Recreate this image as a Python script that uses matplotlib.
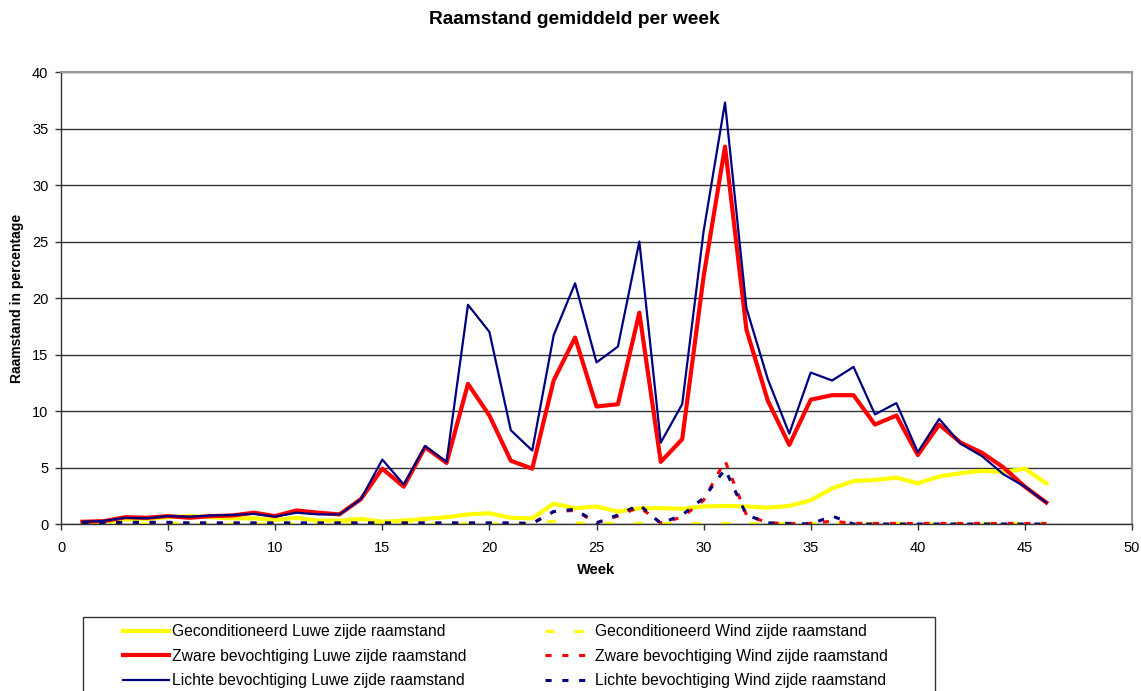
import numpy as np
import matplotlib.pyplot as plt
from matplotlib.patches import Rectangle

plt.rcParams['font.family'] = ['Liberation Sans', 'DejaVu Sans']

weeks = np.arange(1, 47)

# Luwe zijde (lijzijde) raamstand
gecond_luwe = [0.1, 0.2, 0.4, 0.45, 0.6, 0.7, 0.6, 0.5, 0.5, 0.35,
               0.55, 0.3, 0.3, 0.45, 0.2, 0.3, 0.45, 0.6, 0.85, 0.95,
               0.55, 0.5, 1.8, 1.4, 1.55, 1.1, 1.4, 1.4, 1.35, 1.55,
               1.6, 1.55, 1.45, 1.6, 2.1, 3.15, 3.8, 3.9, 4.1, 3.6,
               4.2, 4.5, 4.7, 4.6, 4.9, 3.6]
zware_luwe = [0.2, 0.25, 0.6, 0.55, 0.7, 0.55, 0.7, 0.75, 1.0, 0.7,
              1.2, 1.0, 0.85, 2.2, 4.9, 3.3, 6.8, 5.4, 12.4, 9.6,
              5.6, 4.9, 12.7, 16.5, 10.4, 10.6, 18.7, 5.5, 7.5, 21.9,
              33.4, 17.2, 10.9, 7.0, 11.0, 11.4, 11.4, 8.8, 9.6, 6.1,
              8.8, 7.2, 6.3, 5.0, 3.3, 1.9]
lichte_luwe = [0.2, 0.27, 0.55, 0.5, 0.7, 0.65, 0.75, 0.8, 0.9, 0.65,
               1.0, 0.85, 0.85, 2.2, 5.7, 3.5, 6.9, 5.5, 19.4, 17.0,
               8.3, 6.5, 16.7, 21.3, 14.3, 15.7, 25.0, 7.2, 10.6, 25.9,
               37.3, 19.1, 12.8, 8.0, 13.4, 12.7, 13.9, 9.7, 10.7, 6.35,
               9.3, 7.1, 6.0, 4.4, 3.3, 1.9]

# Wind zijde raamstand
gecond_wind = [0.0, 0.0, 0.0, 0.0, 0.05, 0.0, 0.0, 0.0, 0.0, 0.0,
               0.0, 0.0, 0.0, 0.0, 0.0, 0.0, 0.0, 0.0, 0.0, 0.0,
               0.0, 0.05, 0.25, 0.1, 0.05, 0.05, 0.05, 0.05, 0.05, 0.05,
               0.05, 0.05, 0.05, 0.05, 0.05, 0.05, 0.05, 0.05, 0.05, 0.05,
               0.05, 0.05, 0.05, 0.05, 0.05, 0.05]
zware_wind = [0.05, 0.05, 0.05, 0.05, 0.05, 0.05, 0.05, 0.05, 0.05, 0.05,
              0.05, 0.05, 0.05, 0.05, 0.05, 0.05, 0.05, 0.05, 0.05, 0.05,
              0.05, 0.05, 1.1, 1.2, 0.1, 0.7, 1.5, 0.1, 0.6, 2.1,
              5.6, 0.8, 0.1, 0.05, 0.05, 0.25, 0.05, 0.05, 0.05, 0.05,
              0.05, 0.05, 0.05, 0.05, 0.05, 0.05]
lichte_wind = [0.1, 0.1, 0.15, 0.15, 0.15, 0.1, 0.1, 0.1, 0.1, 0.1,
               0.1, 0.1, 0.1, 0.1, 0.1, 0.1, 0.1, 0.1, 0.1, 0.1,
               0.1, 0.05, 1.1, 1.3, 0.1, 0.8, 1.7, 0.05, 0.8, 2.3,
               4.85, 0.8, 0.1, 0.05, 0.0, 0.7, 0.0, 0.0, 0.0, 0.0,
               0.0, 0.0, 0.0, 0.0, 0.0, 0.0]

W, H = 1141, 691
fig = plt.figure(figsize=(W / 100, H / 100), dpi=100)
ax = fig.add_axes([61 / W, 1 - 524 / H, (1132 - 61) / W, (524 - 72) / H])

l1, = ax.plot(weeks, gecond_luwe, color='#ffff00', lw=3.0,
              label='Geconditioneerd Luwe zijde raamstand')
l2, = ax.plot(weeks, gecond_wind, color='#ffff00', lw=2.2, dashes=(3.0, 6.5),
              label='Geconditioneerd Wind zijde raamstand')
l3, = ax.plot(weeks, zware_luwe, color='#ff0000', lw=3.0,
              label='Zware bevochtiging Luwe zijde raamstand')
l4, = ax.plot(weeks, zware_wind, color='#ff0000', lw=2.2, dashes=(2.0, 3.5),
              label='Zware bevochtiging Wind zijde raamstand')
l5, = ax.plot(weeks, lichte_luwe, color='#000080', lw=1.6,
              label='Lichte bevochtiging Luwe zijde raamstand')
l6, = ax.plot(weeks, lichte_wind, color='#000080', lw=2.2, dashes=(2.0, 3.5),
              label='Lichte bevochtiging Wind zijde raamstand')

ax.set_xlim(0, 50)
ax.set_ylim(0, 40)
ax.set_xticks(np.arange(0, 51, 5))
ax.set_yticks(np.arange(0, 41, 5))
ax.yaxis.grid(True, color='#333333', lw=1)
ax.set_axisbelow(True)
ax.tick_params(labelsize=10.5, direction='out', length=4, width=1, color='#333333')
ax.tick_params(axis='x', pad=8)
ax.tick_params(axis='y', pad=5)

for side in ['top', 'right']:
    ax.spines[side].set_color('#999999')
    ax.spines[side].set_linewidth(1.5)
for side in ['left', 'bottom']:
    ax.spines[side].set_color('#333333')
    ax.spines[side].set_linewidth(1)

ax.set_xlabel('Week', fontsize=10.5, fontweight='bold', labelpad=6)
ax.set_ylabel('Raamstand in percentage', fontsize=10, fontweight='bold', labelpad=6)
fig.text(574 / W, 1 - 19 / H, 'Raamstand gemiddeld per week', ha='center', va='center',
         fontsize=13.8, fontweight='bold')

# legend box (runs off the bottom edge like in the original)
fig.patches.append(Rectangle((83 / W, -0.05), (935 - 83) / W, 0.05 + (1 - 617 / H),
                             transform=fig.transFigure, fill=False,
                             edgecolor='#333333', lw=1))

hs = [l1, l3, l5, l2, l4, l6]
leg = fig.legend(hs, [h.get_label() for h in hs],
                 ncol=2, loc='upper left', bbox_to_anchor=(123 / W, 1 - 624 / H),
                 fontsize=11.3, frameon=False,
                 handlelength=2.9, handletextpad=0.25, columnspacing=5.0,
                 labelspacing=0.62, borderpad=0, borderaxespad=0)

fig.savefig('out.png', dpi=100)
